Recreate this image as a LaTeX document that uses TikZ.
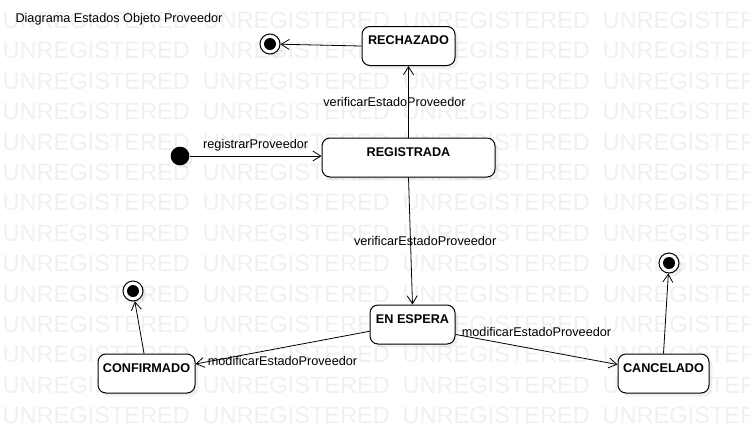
\documentclass[tikz,border=0pt]{standalone}
\usepackage{fontspec}
\setmainfont{Liberation Sans}
\usetikzlibrary{arrows.meta}
\usetikzlibrary{shadows}
\usetikzlibrary{positioning}
\tikzset{every picture/.style={line width=0.75pt},
  sombra/.style={drop shadow={shadow xshift=2.5pt,shadow yshift=-2.5pt,opacity=0.12}},
  estado/.style={draw,rounded corners=6pt,fill=white,sombra,inner xsep=2pt,inner ysep=0pt,
    text height=13.5pt,text depth=15.75pt,minimum height=29.25pt,
    font=\bfseries\fontsize{9.5}{11}\selectfont},
  inicio/.style={circle,fill=black,sombra,minimum size=14pt,inner sep=0pt},
  final/.style={circle,draw,fill=white,sombra,minimum size=15pt,inner sep=0pt,
    path picture={\fill[black] (path picture bounding box.center) circle (4.5pt);}},
  trans/.style={-{Straight Barb[length=6pt,width=7.5pt]},line width=0.6pt},
  etiqueta/.style={font=\fontsize{9.5}{11}\selectfont},
  marca/.style={anchor=base west,inner sep=0pt,text=black!6,font=\fontsize{17.7}{20}\selectfont}}

\begin{document}
\begin{tikzpicture}[x=0.75pt,y=-0.75pt,every node/.append style={etiqueta}]
\useasboundingbox (0,0) rectangle (750,433);
\begin{scope}
\clip (0,0) rectangle (750,433);
\foreach \r in {0,...,13}
  \foreach \c in {0,...,3}
    \node[marca] (wm-\r-\c) at (2+200*\c,28.5+30.4*\r) {UNREGISTERED};
\end{scope}
\node[anchor=west,inner sep=0pt] (titulo) at (15,19) {Diagrama Estados Objeto Proveedor};
% estados
\node[estado,minimum width=69.75pt] (rechazado) at (408.5,46) {RECHAZADO};
\node[estado,minimum width=129.75pt] (registrada) at (408.5,157.5) {REGISTRADA};
\node[estado,minimum width=63.75pt] (enespera) at (412.5,324.5) {EN ESPERA};
\node[estado,minimum width=72.75pt] (confirmado) at (146.5,373.5) {CONFIRMADO};
\node[estado,minimum width=68.25pt] (cancelado) at (663.5,373.5) {CANCELADO};
\node[inicio] (ini) at (180,156) {};
\node[final] (fin1) at (270,44) {};
\node[final] (fin2) at (133,291) {};
\node[final] (fin3) at (669,263) {};
% transiciones
\draw[trans] (ini) -- (ini -| registrada.west) node [midway, above] {registrarProveedor};
\draw[trans] (registrada.north) -- (rechazado.south) node [midway, xshift=-10.5pt] {verificarEstadoProveedor};
\draw[trans] (registrada.south) -- (enespera.north) node [midway, xshift=11pt] {verificarEstadoProveedor};
\draw[trans] (enespera.189) -- (confirmado.11) node [midway, below=3pt] {modificarEstadoProveedor};
\draw[trans] (enespera.-13) -- (cancelado.169) node [midway, above=6pt] {modificarEstadoProveedor};
\draw[trans] (rechazado.west) -- (fin1);
\draw[trans] (confirmado.97) -- (fin2);
\draw[trans] (cancelado.north) -- (fin3);
\end{tikzpicture}
\end{document}
